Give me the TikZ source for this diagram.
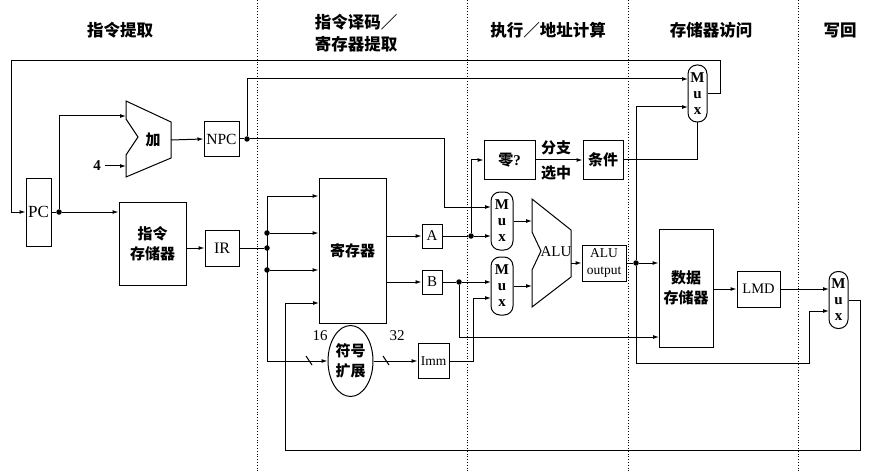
\documentclass[tikz,border=0pt]{standalone}
\usepackage{fontspec}
\setmainfont{Liberation Serif}
\newfontfamily\cjk{Noto Sans CJK SC}
\usetikzlibrary{arrows.meta,shapes.geometric}
\begin{document}
\begin{tikzpicture}[x=1pt,y=-1pt,
  line width=1pt,
  box/.style={draw,line width=1pt,inner sep=0pt,anchor=center},
  arr/.style={-{Latex[length=6pt,width=4pt]}},
  dot/.style={circle,fill,inner sep=0pt,minimum size=5.5pt},
  mux/.style={draw,rounded corners=9pt,minimum width=19pt,minimum height=57pt,inner sep=0pt,align=center,font=\bfseries\fontsize{15}{16}\selectfont},
  lat/.style={font=\fontsize{15}{16}\selectfont},
  zh/.style={font=\cjk\bfseries\fontsize{15}{20}\selectfont},
  hdr/.style={font=\cjk\bfseries\fontsize{16.5}{22}\selectfont,align=center},
  divider/.style={dotted,line width=0.8pt}
]
\useasboundingbox (0,0) rectangle (885,473);
\fill[white] (0,0) rectangle (885,473);

% stage dividers
\foreach \x in {257,467,628,798} \draw[divider] (\x,0) -- (\x,473);

% headers
\node[hdr] (h1) at (120,30) {指令提取};
\node[hdr] (h2) at (356,33) {指令译码／\\寄存器提取};
\node[hdr] (h3) at (548,30) {执行／地址计算};
\node[hdr] (h4) at (711,30) {存储器访问};
\node[hdr] (h5) at (840,30) {写回};

% ---------- fetch ----------
\node[box,minimum width=25pt,minimum height=68pt,font=\fontsize{17}{17}\selectfont] (pc) at (38.5,212) {PC};
\draw (126,101) -- (171,122) -- (171,158) -- (126,177) -- (126,155) -- (138,137) -- (126,119) -- cycle;
\node[zh] (add) at (153,140) {加};
\coordinate (addin1) at (126,116);
\coordinate (addin2) at (126,166);
\coordinate (addout) at (171,140);
\node[lat,font=\bfseries\fontsize{15}{16}\selectfont] (four) at (97,166) {4};
\draw[arr] (four.east) -- (addin2);

\node[box,minimum width=35pt,minimum height=35pt,font=\fontsize{15.5}{15}\selectfont] (npc) at (221.5,139) {NPC};
\draw[arr] (addout) -- (npc.west);
\node[dot] (npcdot) at (247,139) {};
\draw (npc.east) -- (npcdot);

\node[box,zh,align=center,minimum width=67pt,minimum height=83pt] (im) at (152.5,243.5) {指令\\存储器};
\node[dot] (pcdot) at (59,212) {};
\draw (pc.east) -- (pcdot);
\draw[arr] (pcdot) -- (im.west |- pcdot);
\draw[arr] (pcdot) |- (addin1);

\node[box,minimum width=34pt,minimum height=36pt,font=\fontsize{16}{16}\selectfont] (ir) at (222,248) {IR};
\draw[arr] (im.east |- ir) -- (ir.west);
\node[dot] (irdot) at (267,248) {};
\draw (ir.east) -- (irdot);

% ---------- decode ----------
\node[box,zh,minimum width=67pt,minimum height=145pt] (rf) at (352.5,250.5) {寄存器};
\node[dot] (bd1) at (267,233) {};
\node[dot] (bd3) at (267,270) {};
\coordinate (bustop) at (267,196);
\coordinate (busbot) at (267,361);
\draw (bustop) -- (busbot);
\draw[arr] (bustop) -- (rf.west |- bustop);
\draw[arr] (bd1) -- (rf.west |- bd1);
\draw[arr] (bd3) -- (rf.west |- bd3);

\node[draw,ellipse,zh,align=center,minimum width=45pt,minimum height=71pt,inner sep=0pt] (se) at (350.5,361) {符号\\扩展};
\draw[arr] (busbot) -- (se.west);
\draw (306,356) -- (312,365);
\node[lat] (n16) at (320,336) {16};
\node[lat] (n32) at (397,336) {32};

\node[box,minimum width=31pt,minimum height=35pt,font=\fontsize{13.5}{13}\selectfont] (imm) at (433.5,361) {Imm};
\draw[arr] (se.east) -- (imm.west);
\draw (383,356) -- (389,365);

\node[box,lat,minimum width=20pt,minimum height=24pt] (a) at (432,236) {A};
\node[box,lat,minimum width=20pt,minimum height=24pt] (b) at (432,282) {B};
\draw[arr] (rf.east |- a) -- (a.west);
\draw[arr] (rf.east |- b) -- (b.west);

% ---------- execute ----------
\node[mux,minimum width=22pt,minimum height=58pt] (m1) at (502,221) {M\\u\\x};
\node[mux,minimum width=22pt,minimum height=58pt] (m2) at (502,286) {M\\u\\x};
\coordinate (m1in1) at (491,207);
\coordinate (m1in2) at (491,236);
\coordinate (m2in1) at (491,282);
\coordinate (m2in2) at (491,298);

\draw[arr] (npcdot) -- (444,139) -- (444,207) -- (m1in1);

\node[box,zh,minimum width=51pt,minimum height=38pt] (zero) at (509.5,160) {零{\rmfamily ?}};
\node[box,zh,minimum width=40pt,minimum height=38pt] (cond) at (603,160) {条件};
\draw[arr] (zero.east) -- (cond.west);
\node[zh] (fz) at (556,148) {分支};
\node[zh] (xz) at (556,173) {选中};

\node[dot] (adot) at (471,236) {};
\draw (a.east) -- (adot);
\draw[arr] (adot) -- (m1in2);
\draw[arr] (adot) |- (zero.west);

\node[dot] (bdot) at (459,282) {};
\draw (b.east) -- (bdot);
\draw[arr] (bdot) -- (m2in1);
\draw[arr] (imm.east) -| (473,298) -- (m2in2);

\draw (532,199) -- (571,230) -- (571,277) -- (532,307) -- (532,270) -- (541,251) -- (532,232) -- cycle;
\node[lat] (alu) at (556,252) {ALU};
\coordinate (aluin1) at (532,221);
\coordinate (aluin2) at (532,286);
\coordinate (aluout) at (571,263);
\draw[arr] (m1.east) -- (aluin1);
\draw[arr] (m2.east) -- (aluin2);

\node[box,align=center,minimum width=44pt,minimum height=36pt,font=\fontsize{13.5}{17}\selectfont] (aluo) at (604,263) {ALU\\output};
\draw[arr] (aluout) -- (aluo.west);

% ---------- memory ----------
\node[mux] (tmux) at (697.5,93.5) {M\\u\\x};
\coordinate (tmin1) at (688,79);
\coordinate (tmin2) at (688,107);
\draw[arr] (npcdot) |- (tmin1);
\draw (cond.east) -| (tmux.south);

\node[box,zh,align=center,minimum width=54pt,minimum height=118pt] (dm) at (686,288) {数据\\存储器};
\coordinate (dmin2) at (659,337);
\draw[arr] (bdot) |- (dmin2);

\node[dot] (aludot) at (636,263) {};
\draw (aluo.east) -- (aludot);
\draw[arr] (aludot) -- (dm.west |- aludot);
\draw[arr] (aludot) |- (tmin2);

\node[box,minimum width=43pt,minimum height=36pt,font=\fontsize{14.5}{14}\selectfont] (lmd) at (758.5,289) {LMD};
\draw[arr] (dm.east |- lmd) -- (lmd.west);

% ---------- write back ----------
\node[mux] (wb) at (838.5,300) {M\\u\\x};
\coordinate (wbin1) at (829,289);
\coordinate (wbin2) at (829,311);
\draw[arr] (lmd.east) -- (wbin1);
\draw[arr] (aludot) -- (636,363) -- (809,363) -- (809,311) -- (wbin2);

\coordinate (rfin4) at (319,303);
\draw[arr] (wb.east) -- (860,300) -- (860,450) -- (285,450) -- (285,303) -- (rfin4);

% PC feedback
\draw[arr] (tmux.east) -- (720,93.5) -- (720,61) -- (11,61) -- (11,212) -- (pc.west);
\end{tikzpicture}
\end{document}
